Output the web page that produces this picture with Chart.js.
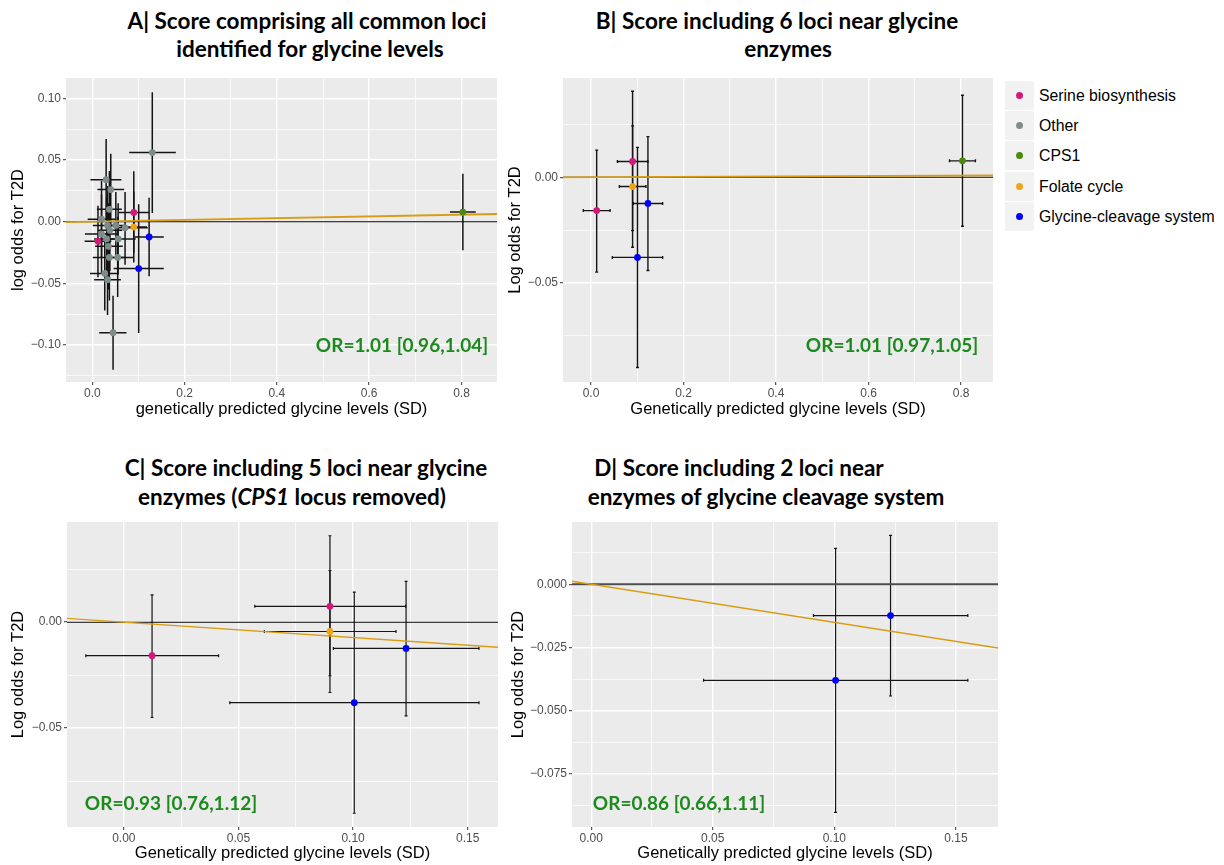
<!DOCTYPE html>
<html>
<head>
<meta charset="utf-8">
<script src="https://cdn.jsdelivr.net/npm/chart.js@4.4.0/dist/chart.umd.min.js"></script>
<style>
  html, body { margin: 0; padding: 0; background: #ffffff; }
  #page { position: relative; width: 1224px; height: 865px; overflow: hidden; font-family: "Liberation Sans", Arial, sans-serif; }
  #page canvas { position: absolute; }
  .ttl { position: absolute; transform: translate(-50%, -50%); white-space: nowrap;
         font-family: Lato, "Open Sans", sans-serif; font-weight: 700; font-size: 22.5px; color: #000; line-height: 1; }
  .orlab { position: absolute; transform: translate(-50%, -50%); white-space: nowrap;
           font-family: Lato, "Open Sans", sans-serif; font-weight: 700; font-size: 19px; color: #1c8a1c; line-height: 1; }
  .legrow { position: absolute; left: 1005px; height: 29px; }
  .legkey { position: absolute; left: 0; top: 0; width: 29px; height: 29px; background: #f2f2f2; }
  .legdot { position: absolute; left: 11px; top: 11px; width: 7px; height: 7px; border-radius: 50%; }
  .legtxt { position: absolute; left: 34px; top: 50%; transform: translateY(-50%); white-space: nowrap;
            font-family: "Liberation Sans", Arial, sans-serif; font-size: 15.8px; color: #000; }
</style>
</head>
<body>
<div id="page">
  <canvas id="cA" width="497" height="342" style="left:0px;top:78px"></canvas>
  <canvas id="cB" width="493" height="342" style="left:500px;top:78px"></canvas>
  <canvas id="cC" width="498" height="342" style="left:0px;top:522px"></canvas>
  <canvas id="cD" width="498" height="342" style="left:500px;top:522px"></canvas>

  <div class="ttl" style="left:307px;top:21px">A| Score comprising all common loci</div>
  <div class="ttl" style="left:310px;top:49px">identified for glycine levels</div>
  <div class="ttl" style="left:777px;top:21px">B| Score including 6 loci near glycine</div>
  <div class="ttl" style="left:788px;top:49px">enzymes</div>
  <div class="ttl" style="left:306px;top:468px">C| Score including 5 loci near glycine</div>
  <div class="ttl" style="left:292px;top:497px">enzymes (<i>CPS1</i> locus removed)</div>
  <div class="ttl" style="left:739px;top:468px">D| Score including 2 loci near</div>
  <div class="ttl" style="left:766px;top:497px">enzymes of glycine cleavage system</div>

  <div id="orA" class="orlab" style="left:402px;top:344px"></div>
  <div id="orB" class="orlab" style="left:892px;top:344px"></div>
  <div id="orC" class="orlab" style="left:171px;top:802px"></div>
  <div id="orD" class="orlab" style="left:679px;top:802px"></div>

  <div id="legend"></div>
</div>

<script>
// ---- Categories -----------------------------------------------------------
const groupNames  = ['Serine biosynthesis', 'Other', 'CPS1', 'Folate cycle', 'Glycine-cleavage system'];
const groupColors = ['#d4177c', '#7d8b8b', '#4b8a0c', '#efa411', '#0000ff'];

// ---- Per-locus estimates (x: glycine effect in SD, y: log odds for T2D) ----
const locusGroup = [
  'Serine biosynthesis', 'Serine biosynthesis', 'Folate cycle',
  'Glycine-cleavage system', 'Glycine-cleavage system', 'CPS1',
  'Other', 'Other', 'Other', 'Other', 'Other', 'Other', 'Other', 'Other', 'Other',
  'Other', 'Other', 'Other', 'Other', 'Other', 'Other', 'Other', 'Other', 'Other'
];
const locusX   = [0.0123, 0.0899, 0.0899, 0.1005, 0.1231, 0.803,
                  0.030, 0.040, 0.037, 0.020, 0.033, 0.051, 0.038, 0.071, 0.020,
                  0.031, 0.056, 0.035, 0.037, 0.055, 0.027, 0.033, 0.045, 0.130];
const locusY   = [-0.0158, 0.0075, -0.0044, -0.0380, -0.0124, 0.0078,
                  0.034, 0.026, 0.010, 0.002, -0.003, -0.003, -0.007, -0.005, -0.010,
                  -0.014, -0.014, -0.020, -0.029, -0.029, -0.042, -0.047, -0.090, 0.056];
const locusXlo = [-0.0166, 0.0571, 0.0613, 0.0462, 0.0914, 0.775,
                  -0.004, 0.011, 0.010, -0.010, 0.001, 0.031, 0.013, 0.050, -0.016,
                  0.004, 0.033, 0.006, 0.001, 0.031, -0.005, 0.004, 0.015, 0.080];
const locusXhi = [0.0413, 0.1229, 0.1187, 0.1549, 0.1549, 0.831,
                  0.063, 0.069, 0.064, 0.050, 0.053, 0.072, 0.065, 0.120, 0.056,
                  0.060, 0.094, 0.066, 0.073, 0.089, 0.056, 0.062, 0.074, 0.181];
const locusYlo = [-0.0450, -0.0332, -0.0253, -0.0902, -0.0442, -0.0232,
                  0.001, -0.004, -0.021, -0.029, -0.034, -0.030, -0.040, -0.035, -0.042,
                  -0.047, -0.043, -0.055, -0.064, -0.061, -0.072, -0.0756, -0.120, 0.007];
const locusYhi = [0.0129, 0.0408, 0.0244, 0.0142, 0.0193, 0.0389,
                  0.067, 0.055, 0.041, 0.033, 0.029, 0.024, 0.026, 0.024, 0.022,
                  0.020, 0.015, 0.015, 0.006, 0.004, -0.012, -0.019, -0.060, 0.105];

// ---- Panels -----------------------------------------------------------------
const panelIds    = ['A', 'B', 'C', 'D'];
const panelGroups = [
  ['Serine biosynthesis', 'Other', 'CPS1', 'Folate cycle', 'Glycine-cleavage system'],
  ['Serine biosynthesis', 'CPS1', 'Folate cycle', 'Glycine-cleavage system'],
  ['Serine biosynthesis', 'Folate cycle', 'Glycine-cleavage system'],
  ['Glycine-cleavage system']
];
const ivwSlope   = [0.0071, 0.0010, -0.0726, -0.1508];   // fitted line through origin
const orLabels   = ['OR=1.01 [0.96,1.04]', 'OR=1.01 [0.97,1.05]', 'OR=0.93 [0.76,1.12]', 'OR=0.86 [0.66,1.11]'];
const xTitles    = ['genetically predicted glycine levels (SD)', 'Genetically predicted glycine levels (SD)',
                    'Genetically predicted glycine levels (SD)', 'Genetically predicted glycine levels (SD)'];
const yTitles    = ['log odds for T2D', 'Log odds for T2D', 'Log odds for T2D', 'Log odds for T2D'];

// Axis ranges and tick labels
const xRange = [[-0.057, 0.877], [-0.0605, 0.869], [-0.0248, 0.1632], [-0.0079, 0.1673]];
const yRange = [[-0.130, 0.1165], [-0.0971, 0.0471], [-0.0967, 0.0473], [-0.0960, 0.0246]];
const xMajor = [[0, 0.2, 0.4, 0.6, 0.8], [0, 0.2, 0.4, 0.6, 0.8], [0, 0.05, 0.10, 0.15], [0, 0.05, 0.10, 0.15]];
const xMinor = [[0.1, 0.3, 0.5, 0.7], [0.1, 0.3, 0.5, 0.7], [0.025, 0.075, 0.125], [0.025, 0.075, 0.125]];
const yMajor = [[-0.10, -0.05, 0, 0.05, 0.10], [-0.05, 0], [-0.05, 0], [-0.075, -0.05, -0.025, 0]];
const yMinor = [[-0.125, -0.075, -0.025, 0.025, 0.075], [-0.075, -0.025, 0.025], [-0.075, -0.025, 0.025],
                [-0.0875, -0.0625, -0.0375, -0.0125, 0.0125]];
const xDecimals = [1, 1, 2, 2];
const yDecimals = [2, 2, 2, 3];

// Frame geometry of each panel (canvas origin, axis band sizes)
const canvasIds   = ['cA', 'cB', 'cC', 'cD'];
const yAxisWidth  = [66, 63, 67, 72];
const xAxisHeight = [38, 38, 37, 37];
const yTitlePad   = [8.2, 5.8, 8.5, 8.5];
const xTitlePad   = [0.2, 0.2, 0.9, 0.9];
const barWidth    = [1.5, 1.4, 1.2, 1.2];
const barCap      = [0, 1.5, 1.5, 1.5];

// ---- Plugins ------------------------------------------------------------------
const panelBackground = {
  id: 'panelBackground',
  beforeDraw(chart) {
    const { ctx, chartArea: a } = chart;
    ctx.save();
    ctx.fillStyle = '#ebebeb';
    ctx.fillRect(a.left, a.top, a.right - a.left, a.bottom - a.top);
    ctx.restore();
  }
};

const errorBars = {
  id: 'errorBars',
  beforeDatasetsDraw(chart, args, opts) {
    const { ctx, chartArea: a } = chart;
    const xs = chart.scales.x, ys = chart.scales.y;
    ctx.save();
    ctx.beginPath();
    ctx.rect(a.left, a.top, a.right - a.left, a.bottom - a.top);
    ctx.clip();
    ctx.strokeStyle = '#151515';
    ctx.lineWidth = opts.width;
    ctx.lineCap = 'butt';
    chart.data.datasets.forEach(ds => {
      if (!ds.intervals) return;
      ds.data.forEach((p, i) => {
        const e = ds.intervals[i];
        const px = xs.getPixelForValue(p.x), py = ys.getPixelForValue(p.y);
        const x0 = xs.getPixelForValue(e.xlo), x1 = xs.getPixelForValue(e.xhi);
        const y0 = ys.getPixelForValue(e.ylo), y1 = ys.getPixelForValue(e.yhi);
        const c = opts.cap;
        ctx.beginPath();
        ctx.moveTo(x0, py); ctx.lineTo(x1, py);
        ctx.moveTo(px, y0); ctx.lineTo(px, y1);
        if (c > 0) {
          ctx.moveTo(x0, py - c); ctx.lineTo(x0, py + c);
          ctx.moveTo(x1, py - c); ctx.lineTo(x1, py + c);
          ctx.moveTo(px - c, y0); ctx.lineTo(px + c, y0);
          ctx.moveTo(px - c, y1); ctx.lineTo(px + c, y1);
        }
        ctx.stroke();
      });
    });
    ctx.restore();
  }
};

// ---- Helpers ------------------------------------------------------------------
const near = (a, b) => Math.abs(a - b) < 1e-9;
const fmt = (v, d) => { const s = Math.abs(v).toFixed(d); return (v < -1e-12 ? '\u2212' : '') + s; };

function axisOptions(k, axis) {
  const isX = axis === 'x';
  const range = isX ? xRange[k] : yRange[k];
  const major = isX ? xMajor[k] : yMajor[k];
  const minor = isX ? xMinor[k] : yMinor[k];
  const dec = isX ? xDecimals[k] : yDecimals[k];
  const isMajor = v => major.some(m => near(m, v));
  return {
    type: 'linear',
    position: isX ? 'bottom' : 'left',
    min: range[0],
    max: range[1],
    bounds: 'data',
    afterBuildTicks(scale) {
      scale.ticks = major.concat(minor).sort((a, b) => a - b).map(v => ({ value: v }));
    },
    afterFit(scale) {
      if (isX) scale.height = xAxisHeight[k]; else scale.width = yAxisWidth[k];
      scale.paddingTop = 0; scale.paddingBottom = 0; scale.paddingLeft = 0; scale.paddingRight = 0;
    },
    border: { display: false },
    grid: {
      color: '#ffffff',
      lineWidth: c => (c.tick && isMajor(c.tick.value)) ? 1.4 : 0.7,
      drawTicks: true,
      tickLength: 3,
      tickWidth: 1,
      tickColor: c => (c.tick && isMajor(c.tick.value)) ? '#333333' : 'rgba(0,0,0,0)'
    },
    ticks: {
      autoSkip: false,
      maxRotation: 0,
      minRotation: 0,
      padding: isX ? 1 : 2,
      color: '#4d4d4d',
      font: { family: '"Liberation Sans", Arial, sans-serif', size: 12 },
      callback: v => isMajor(v) ? fmt(v, dec) : ''
    },
    title: {
      display: true,
      text: isX ? xTitles[k] : yTitles[k],
      color: '#000000',
      font: { family: '"Liberation Sans", Arial, sans-serif', size: 16.5, lineHeight: 1.2 },
      padding: isX ? { top: 0, bottom: xTitlePad[k] } : { top: yTitlePad[k], bottom: 0 }
    }
  };
}

function buildPanel(k) {
  const datasets = [];
  // Loci, one scatter series per pathway group
  groupNames.forEach((g, gi) => {
    if (!panelGroups[k].includes(g)) return;
    const idx = locusGroup.map((lg, i) => lg === g ? i : -1).filter(i => i >= 0);
    datasets.push({
      type: 'scatter',
      label: g,
      order: 0,
      data: idx.map(i => ({ x: locusX[i], y: locusY[i] })),
      intervals: idx.map(i => ({ xlo: locusXlo[i], xhi: locusXhi[i], ylo: locusYlo[i], yhi: locusYhi[i] })),
      pointRadius: 3.4,
      pointHoverRadius: 3.4,
      pointBorderWidth: 0,
      pointBackgroundColor: groupColors[gi],
      backgroundColor: groupColors[gi],
      borderColor: groupColors[gi],
      showLine: false
    });
  });
  // Null line at log odds 0
  datasets.push({
    type: 'line', label: 'null', order: 2,
    data: [{ x: xRange[k][0], y: 0 }, { x: xRange[k][1], y: 0 }],
    borderColor: k === 3 ? '#4d4d4d' : '#000000', borderWidth: k === 3 ? 2 : 1.1,
    pointRadius: 0, fill: false
  });
  // Fitted score effect through the origin
  datasets.push({
    type: 'line', label: 'fit', order: 1,
    data: [{ x: xRange[k][0], y: ivwSlope[k] * xRange[k][0] }, { x: xRange[k][1], y: ivwSlope[k] * xRange[k][1] }],
    borderColor: '#d99d14', borderWidth: k < 2 ? 1.8 : 1.4,
    pointRadius: 0, fill: false
  });

  new Chart(document.getElementById(canvasIds[k]), {
    type: 'scatter',
    data: { datasets },
    options: {
      responsive: false,
      animation: false,
      devicePixelRatio: 1,
      layout: { padding: 0, autoPadding: false },
      plugins: {
        legend: { display: false },
        tooltip: { enabled: false },
        errorBars: { width: barWidth[k], cap: barCap[k] }
      },
      scales: { x: axisOptions(k, 'x'), y: axisOptions(k, 'y') }
    },
    plugins: [panelBackground, errorBars]
  });
  document.getElementById('or' + panelIds[k]).textContent = orLabels[k];
}

panelIds.forEach((id, k) => buildPanel(k));

// ---- Legend -------------------------------------------------------------------
const legendTop = [81, 111, 141, 172, 202];
const legend = document.getElementById('legend');
groupNames.forEach((g, i) => {
  const row = document.createElement('div');
  row.className = 'legrow';
  row.style.top = legendTop[i] + 'px';
  row.innerHTML = '<div class="legkey"><div class="legdot" style="background:' + groupColors[i] +
                  '"></div></div><div class="legtxt">' + g + '</div>';
  legend.appendChild(row);
});
</script>
</body>
</html>
